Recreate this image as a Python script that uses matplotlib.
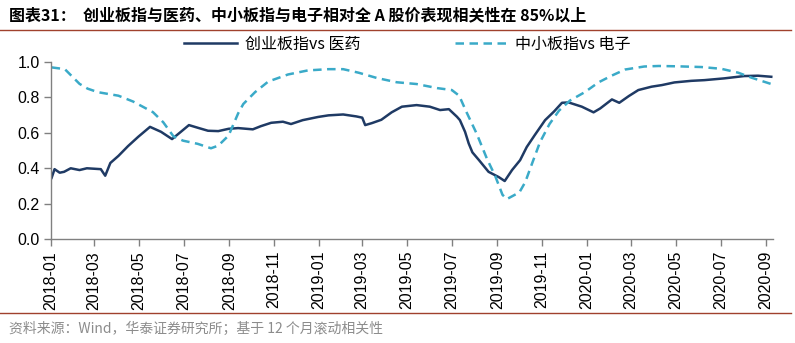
import pandas as pd
import matplotlib
matplotlib.use('Agg')
from matplotlib import pyplot as plt
import matplotlib.dates as mdates

plt.rcParams['font.family'] = ['Liberation Sans', 'Noto Sans CJK SC', 'DejaVu Sans']

title = '图表31：  创业板指与医药、中小板指与电子相对全 A 股价表现相关性在 85%以上'
source = '资料来源：Wind，华泰证券研究所；基于 12 个月滚动相关性'
name_cyb = '创业板指vs 医药'
name_zxb = '中小板指vs 电子'

# 创业板指 vs 医药
cyb_dates = ['2018-01-02', '2018-01-06', '2018-01-13', '2018-01-19', '2018-01-28', '2018-02-09',
             '2018-02-19', '2018-03-10', '2018-03-16', '2018-03-23', '2018-04-03', '2018-04-16',
             '2018-04-30', '2018-05-16', '2018-05-31', '2018-06-15', '2018-06-27', '2018-07-08',
             '2018-07-20', '2018-08-03', '2018-08-17', '2018-08-31', '2018-09-13', '2018-10-03',
             '2018-10-14', '2018-10-28', '2018-11-13', '2018-11-24', '2018-12-10', '2018-12-31',
             '2019-01-14', '2019-02-03', '2019-02-21', '2019-03-01', '2019-03-05', '2019-03-14',
             '2019-03-27', '2019-04-10', '2019-04-24', '2019-05-14', '2019-06-01', '2019-06-15',
             '2019-06-27', '2019-07-08', '2019-07-12', '2019-07-19', '2019-07-24', '2019-07-29',
             '2019-08-07', '2019-08-20', '2019-09-03', '2019-09-11', '2019-09-21', '2019-10-02',
             '2019-10-11', '2019-10-22', '2019-11-05', '2019-11-17', '2019-11-28', '2019-12-07',
             '2019-12-25', '2020-01-10', '2020-01-19', '2020-02-04', '2020-02-14', '2020-02-27',
             '2020-03-11', '2020-03-29', '2020-04-12', '2020-04-29', '2020-05-22', '2020-06-09',
             '2020-07-06', '2020-08-02', '2020-08-21', '2020-09-08']
cyb_vals = [0.346, 0.395, 0.375, 0.38, 0.40, 0.39,
            0.40, 0.395, 0.358, 0.43, 0.47, 0.525,
            0.578, 0.634, 0.606, 0.565, 0.606, 0.644,
            0.629, 0.612, 0.61, 0.623, 0.627, 0.62,
            0.638, 0.657, 0.663, 0.65, 0.672, 0.69,
            0.699, 0.704, 0.693, 0.686, 0.644, 0.655,
            0.674, 0.716, 0.748, 0.757, 0.748, 0.729,
            0.734, 0.691, 0.672, 0.606, 0.54, 0.49,
            0.446, 0.38, 0.35, 0.328, 0.39, 0.446,
            0.52, 0.588, 0.672, 0.72, 0.77, 0.772,
            0.748, 0.716, 0.738, 0.789, 0.77, 0.808,
            0.842, 0.861, 0.87, 0.885, 0.894, 0.898,
            0.908, 0.921, 0.923, 0.917]

# 中小板指 vs 电子
zxb_dates = ['2018-01-02', '2018-01-20', '2018-02-09', '2018-02-20', '2018-03-06', '2018-04-03',
             '2018-04-23', '2018-05-20', '2018-06-03', '2018-06-17', '2018-06-30', '2018-07-20',
             '2018-08-07', '2018-08-17', '2018-08-31', '2018-09-13', '2018-09-20', '2018-10-06',
             '2018-10-24', '2018-11-20', '2018-12-17', '2019-01-14', '2019-02-03', '2019-02-24',
             '2019-03-21', '2019-04-17', '2019-05-14', '2019-06-11', '2019-07-01', '2019-07-11',
             '2019-07-21', '2019-08-04', '2019-08-18', '2019-08-29', '2019-09-08', '2019-09-14',
             '2019-10-01', '2019-10-09', '2019-10-18', '2019-10-29', '2019-11-11', '2019-11-24',
             '2019-12-09', '2019-12-29', '2020-01-17', '2020-02-04', '2020-02-22', '2020-03-19',
             '2020-04-08', '2020-05-04', '2020-06-05', '2020-07-02', '2020-07-25', '2020-08-12',
             '2020-09-08']
zxb_vals = [0.97, 0.96, 0.877, 0.85, 0.83, 0.81,
            0.777, 0.717, 0.66, 0.58, 0.556, 0.538,
            0.513, 0.528, 0.585, 0.71, 0.763, 0.83,
            0.89, 0.93, 0.953, 0.96, 0.96, 0.94,
            0.91, 0.886, 0.876, 0.853, 0.842, 0.81,
            0.717, 0.594, 0.452, 0.357, 0.25, 0.226,
            0.264, 0.322, 0.424, 0.547, 0.65, 0.726,
            0.783, 0.83, 0.886, 0.924, 0.958, 0.975,
            0.978, 0.976, 0.972, 0.962, 0.94, 0.912,
            0.876]

cyb = pd.Series(cyb_vals, index=pd.to_datetime(cyb_dates))
zxb = pd.Series(zxb_vals, index=pd.to_datetime(zxb_dates))

fig = plt.figure(figsize=(7.95, 3.43), dpi=100)
ax = fig.add_axes([0.064, 0.303, 0.908, 0.516])

ax.plot(cyb.index, cyb.values, color='#1F3A64', lw=1.8, label=name_cyb)
ax.plot(zxb.index, zxb.values, color='#3AAAC8', lw=1.8, ls=(0, (3.4, 2.2)), label=name_zxb)

ax.set_ylim(0, 1.0)
ax.set_yticks([0, 0.2, 0.4, 0.6, 0.8, 1.0])
ax.yaxis.set_major_formatter(matplotlib.ticker.FormatStrFormatter('%.1f'))
ax.set_xlim(pd.Timestamp('2018-01-01'), pd.Timestamp('2020-09-10'))
ax.xaxis.set_major_locator(mdates.MonthLocator(bymonth=[1, 3, 5, 7, 9, 11]))
ax.xaxis.set_major_formatter(mdates.DateFormatter('%Y-%m'))
for lab in ax.get_xticklabels():
    lab.set_rotation(90)

for s in ['top', 'right']:
    ax.spines[s].set_visible(False)
for s in ['left', 'bottom']:
    ax.spines[s].set_color('#808080')
    ax.spines[s].set_linewidth(1.0)
ax.tick_params(axis='both', labelsize=11.5, colors='#808080', labelcolor='black', length=5, width=1.0)
ax.tick_params(axis='y', pad=3)

leg = ax.legend(loc='lower left', bbox_to_anchor=(0.165, 0.97), ncol=2, frameon=False,
                handlelength=3.3, columnspacing=5.9, handletextpad=0.5,
                prop={'family': ['Noto Sans CJK SC', 'DejaVu Sans'], 'size': 11.5})

fig.text(0.011, 0.955, title, fontsize=11.5, fontweight='bold', va='center', ha='left',
         family=['Noto Sans CJK SC', 'DejaVu Sans'])
fig.add_artist(plt.Line2D([0.0, 0.995], [0.912, 0.912], color='#A0412D', lw=1.0))
fig.add_artist(plt.Line2D([0.0, 0.995], [0.087, 0.087], color='#A0412D', lw=1.0))
fig.text(0.011, 0.04, source, fontsize=10, color='#8C8C8C', va='center', ha='left',
         family=['Noto Sans CJK SC', 'DejaVu Sans'])

fig.savefig('out.png', dpi=100)
